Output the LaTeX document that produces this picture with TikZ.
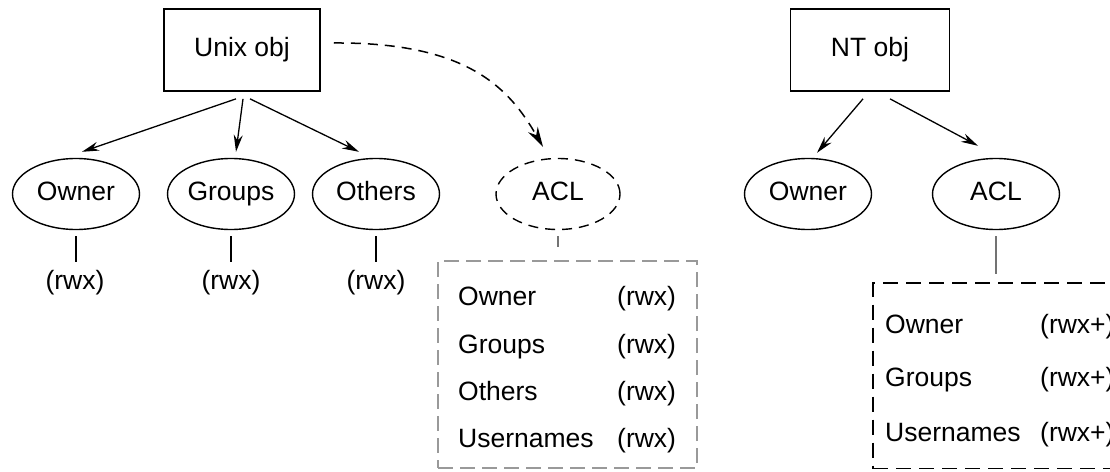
\documentclass[tikz,border=0pt]{standalone}
\usepackage{fontspec}
\setmainfont{Liberation Sans}
\usepackage{tikz}
\usetikzlibrary{arrows.meta,shapes.geometric}

\begin{document}
\begin{tikzpicture}[x=1pt, y=-1pt,
    font=\fontsize{26.5}{31}\selectfont,
    objbox/.style={draw, line width=1.7pt, minimum height=82pt, text height=19pt, text depth=5.5pt},
    perm/.style={draw, ellipse, line width=1.4pt, minimum width=127pt, minimum height=71pt, inner sep=0pt, text height=19pt, text depth=5.5pt},
    txt/.style={inner sep=0pt},
    arr/.style={line width=1.3pt, -{Stealth[length=17pt, width=9pt]}},
    tick/.style={line width=1.4pt}]
    \useasboundingbox (0,0) rectangle (1110,471);
    %%Unix
    \node[objbox, minimum width=156pt] (unix) at (242,50) {Unix obj};
    \node[perm] (owner) at (76,194) {Owner};
    \node[perm] (groups) at (231,194) {Groups};
    \node[perm] (others) at (376,194) {Others};
    \node[perm, minimum width=124pt, dash pattern=on 10pt off 7pt] (acl) at (558,194) {ACL};
    \node[txt] (ownerP) at (75,283) {(rwx)};
    \node[txt] (groupsP) at (231,283) {(rwx)};
    \node[txt] (othersP) at (376,283) {(rwx)};
    \draw[arr] ([shift={(-6,7)}]unix.south) -- ([shift={(6,-6)}]owner.north);
    \draw[arr] ([shift={(1,7)}]unix.south) -- ([shift={(5,-6)}]groups.north);
    \draw[arr] ([shift={(8,7)}]unix.south) -- ([shift={(-17,-6)}]others.north);
    \draw[line width=1.5pt, dash pattern=on 10pt off 7pt, -{Stealth[length=20pt, width=11pt]}]
    ([shift={(13,-7)}]unix.east) .. controls (470,42) and (510,90) .. ([shift={(-15,-11)}]acl.north);
    \draw[tick, shorten <=6pt, shorten >=8pt] (owner.south) -- (owner.south |- ownerP.north);
    \draw[tick, shorten <=6pt, shorten >=8pt] (groups.south) -- (groups.south |- groupsP.north);
    \draw[tick, shorten <=6pt, shorten >=8pt] (others.south) -- (others.south |- othersP.north);
    %%ACL Unix
    \node[draw=black!40, line width=2.2pt, dash pattern=on 15pt off 7pt, minimum width=259pt, minimum height=207pt] (uacl) at (567.5,364.5) {};
    \draw[tick, black!55, shorten <=6pt, shorten >=13pt] (acl.south) -- (acl.south |- uacl.north);
    \node[txt, anchor=base west] (uOwner) at (458,305) {Owner};
    \node[txt, anchor=base west] (uGroups) at (458,353) {Groups};
    \node[txt, anchor=base west] (uOthers) at (458,400) {Others};
    \node[txt, anchor=base west] (uUsers) at (458,447) {Usernames};
    \node[txt, anchor=base west] (uOwnerP) at (617,305) {(rwx)};
    \node[txt, anchor=base west] (uGroupsP) at (617,353) {(rwx)};
    \node[txt, anchor=base west] (uOthersP) at (617,400) {(rwx)};
    \node[txt, anchor=base west] (uUsersP) at (617,447) {(rwx)};
    %%NT
    \node[objbox, minimum width=159pt] (nt) at (870,50) {NT obj};
    \node[perm] (ntowner) at (808,194) {Owner};
    \node[perm] (ntacl) at (996,194) {ACL};
    \draw[arr] ([shift={(-7,7)}]nt.south) -- ([shift={(9,-5)}]ntowner.north);
    \draw[arr] ([shift={(20,7)}]nt.south) -- ([shift={(-18,-12)}]ntacl.north);
    %%ACL NT
    \node[draw, line width=1.5pt, dash pattern=on 15pt off 8pt, minimum width=253pt, minimum height=185.5pt] (ntbox) at (999.5,375.75) {};
    \draw[tick, black!55, shorten <=6pt, shorten >=8pt] (ntacl.south) -- (ntacl.south |- ntbox.north);
    \node[txt, anchor=base west] (nOwner) at (885,333) {Owner};
    \node[txt, anchor=base west] (nGroups) at (885,386) {Groups};
    \node[txt, anchor=base west] (nUsers) at (885,441) {Usernames};
    \node[txt, anchor=base west] (nOwnerP) at (1040,333) {(rwx+)};
    \node[txt, anchor=base west] (nGroupsP) at (1040,386) {(rwx+)};
    \node[txt, anchor=base west] (nUsersP) at (1040,441) {(rwx+)};
\end{tikzpicture}
\end{document}
